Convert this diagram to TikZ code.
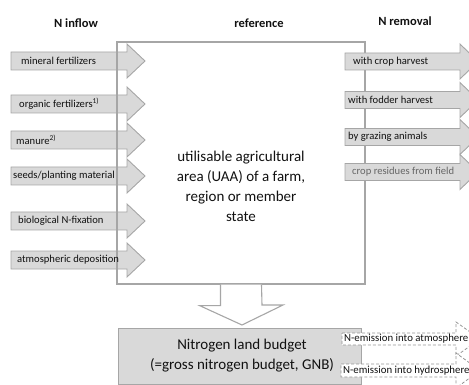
\documentclass[tikz,border=0pt]{standalone}
\usepackage{fontspec}
\setmainfont{Carlito}
\definecolor{arrfill}{HTML}{D9D9D9}
\definecolor{arrline}{HTML}{A6A6A6}
\definecolor{txt}{HTML}{111111}
\begin{document}
\begin{tikzpicture}[x=1pt,y=-1pt,
  arr/.style={draw=arrline,fill=arrfill,line width=0.9pt,line join=miter},
  dasharr/.style={draw=arrline!90!black,fill=white,line width=0.8pt,dashed,dash pattern=on 3pt off 2pt},
  lab/.style={font=\fontsize{10.6}{13}\selectfont,text=txt,inner sep=0pt,anchor=west},
  dlab/.style={font=\fontsize{10.8}{12}\selectfont,text=txt,inner sep=0pt,anchor=west},
  head/.style={font=\fontsize{12.5}{14}\selectfont\bfseries,text=txt,inner sep=0pt},
  big/.style={font=\fontsize{15}{20}\selectfont,text=txt,align=center,inner sep=0pt},
  boxline/.style={draw=arrline,line width=1.1pt}]
\useasboundingbox (0,0) rectangle (469,385);

\newcommand{\inshape}[1]{%
  \draw[arr] (11,#1-9) -- (127,#1-9) -- (127,#1-17) -- (145,#1) -- (127,#1+17) -- (127,#1+9) -- (11,#1+9) -- cycle;}
\newcommand{\outflow}[4]{%
  \draw[arr] (345,#2-8.5) -- (460,#2-8.5) -- (460,#2-17.5) -- (478,#2) -- (460,#2+17.5) -- (460,#2+8.5) -- (345,#2+8.5) -- cycle;
  \node[lab] (#1) at (#3,#2) {#4};}

% headers
\node[head] (hin) at (76,23) {N inflow};
\node[head] (href) at (259,23) {reference};
\node[head] (hout) at (405,21) {N removal};

% inflow arrow shapes
\inshape{61}
\inshape{104}
\inshape{140}
\inshape{176}
\inshape{221}
\inshape{260}

% reference box (over the inflow arrows, under the removal arrows)
\node[boxline,minimum width=248,minimum height=242,inner sep=0pt] (ref) at (241,163) {};
\node[big] (reftxt) at (241,186) {utilisable agricultural\\area (UAA) of a farm,\\region or member\\state};

% inflow labels
\node[lab] (mf) at (21,61) {mineral fertilizers};
\node[lab] (of) at (19,104) {organic fertilizers\textsuperscript{1)}};
\node[lab] (ma) at (16,140) {manure\textsuperscript{2)}};
\node[lab] (sp) at (13,176) {seeds/planting material};
\node[lab] (bf) at (18,221) {biological N-fixation};
\node[lab] (ad) at (17,260) {atmospheric deposition};

% outflow arrows
\outflow{ch}{61.5}{353}{with crop harvest}
\outflow{fh}{100}{348}{with fodder harvest}
\outflow{ga}{137}{348}{by grazing animals}
\draw[arr] (345,163.5) -- (460,163.5) -- (460,154.5) -- (478,172) -- (460,189.5) -- (460,180.5) -- (345,180.5) -- cycle;
\node[lab,text=black!60] (cr) at (352,172) {crop residues from field};

% down arrow
\coordinate (dtop) at (ref.south);
\draw[boxline,fill=white,line join=miter] ([xshift=-20.5]dtop) -- ++(0,21) -- ++(-21,0) -- (242,325) -- (283,305) -- ++(-21,0) -- ([xshift=20.5]dtop);

% budget box
\node[draw=arrline,fill=arrfill,line width=1pt,minimum width=243,minimum height=56,inner sep=0pt] (gnb) at (240,356) {};
\node[big] (gnbtxt) at (242,356) {Nitrogen land budget\\(=gross nitrogen budget, GNB)};

% dashed emission arrows
\draw[dasharr] (342,333) -- (456,333) -- (456,322) -- (480,339) -- (456,356) -- (456,345) -- (342,345) -- cycle;
\node[dlab] (atm) at (344,339) {N-emission into atmosphere};
\draw[dasharr] (341,364) -- (456,364) -- (456,353) -- (480,370.5) -- (456,388) -- (456,377) -- (341,377) -- cycle;
\node[dlab] (hyd) at (343,370.5) {N-emission into hydrosphere};
\end{tikzpicture}
\end{document}
